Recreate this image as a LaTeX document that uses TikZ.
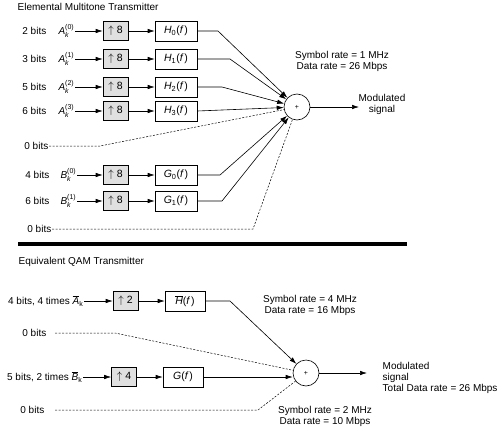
\documentclass[tikz,border=0pt]{standalone}
\usepackage{fontspec}
\setmainfont{Liberation Sans}
\usetikzlibrary{arrows.meta}
\newcommand\symAB[3]{$\mbox{\itshape #1}^{\mbox{\scriptsize #2}}_{\mbox{\scriptsize\itshape #3}}$}
\newcommand\barsym[2]{$\overline{\mbox{\itshape #1}}_{\mbox{\scriptsize #2}}$}
\newcommand\filt[2]{{\itshape #1}\textsubscript{#2}({\itshape f\,})}
\newcommand\upn[1]{$\uparrow$\ #1}
\begin{document}
\begin{tikzpicture}[x=1pt,y=-1pt,
  font=\fontsize{10}{11}\selectfont,
  sig/.style={line width=0.6pt,-{Latex[length=7pt,width=4.5pt]}},
  dsh/.style={line width=0.5pt,dash pattern=on 2pt off 1.5pt},
  upbox/.style={draw,line width=0.6pt,fill=black!12,minimum width=25pt,minimum height=19pt,inner sep=0pt,font=\fontsize{10.5}{12}\selectfont},
  fbox/.style={draw,line width=0.6pt,fill=white,minimum width=42pt,minimum height=20pt,inner sep=0pt,font=\fontsize{10.5}{12}\selectfont},
  sumnode/.style={draw,circle,line width=0.6pt,minimum size=26pt,inner sep=0pt},
  lbl/.style={inner sep=0.5pt}]
\useasboundingbox (0,0) rectangle (500,428);

% ---------- top section ----------
\node[anchor=west,lbl] (t1) at (17,7) {Elemental Multitone Transmitter};
\node[sumnode] (sum) at (297,107) {\scriptsize +};

\foreach \i/\y/\b in {0/31/2,1/59/3,2/87/5,3/111/6}{
  \node[anchor=east,lbl] (bA\i) at (47,\y) {\b\ bits};
  \node[anchor=east,lbl] (a\i) at (75,\y) {\symAB{A}{(\i)}{k}};
  \node[upbox] (u\i) at (115.5,\y) {\upn{8}};
  \node[fbox] (h\i) at (176,\y) {\filt{H}{\i}};
  \draw[sig] (a\i.east) -- (u\i.west);
  \draw[sig] (u\i.east) -- (h\i.west);
}
\coordinate (k0) at (218,31);
\coordinate (k1) at (230,59);
\coordinate (k2) at (222,87);
\draw[sig] (h0.east) -- (k0) -- (sum);
\draw[sig] (h1.east) -- (k1) -- (sum);
\draw[sig] (h2.east) -- (k2) -- (sum);
\draw[sig] (h3.east) -- (sum);

\node[anchor=east,lbl] (z1) at (49,146) {0 bits};
\coordinate (kz1) at (100,146);
\draw[dsh] (z1.east) -- (kz1) -- (sum);

\foreach \i/\y/\b in {0/175/4,1/201/6}{
  \node[anchor=east,lbl] (bB\i) at (50,\y) {\b\ bits};
  \node[anchor=east,lbl] (b\i) at (77,\y) {\symAB{B}{(\i)}{k}};
  \node[upbox] (v\i) at (115.5,\y) {\upn{8}};
  \node[fbox] (g\i) at (176,\y) {\filt{G}{\i}};
  \draw[sig] (b\i.east) -- (v\i.west);
  \draw[sig] (v\i.east) -- (g\i.west);
}
\coordinate (kg0) at (220,175);
\coordinate (kg1) at (222,201);
\draw[sig] (g0.east) -- (kg0) -- (sum);
\draw[sig] (g1.east) -- (kg1) -- (sum);

\node[anchor=east,lbl] (z2) at (52,229) {0 bits};
\coordinate (kz2) at (253,230);
\draw[dsh] (z2.east) -- (z2.east -| kz2) -- (sum);

\node[align=center,lbl] (r1) at (342,61.5) {Symbol rate = 1 MHz\\Data rate = 26 Mbps};
\coordinate (o1) at (359,107);
\draw[sig] (sum) -- (o1);
\node[align=center,lbl] (m1) at (382,104.5) {Modulated\\signal};

% ---------- separator ----------
\coordinate (bl) at (18,244);
\coordinate (br) at (407,244);
\draw[line width=4pt] (bl) -- (br);

% ---------- bottom section ----------
\node[anchor=west,lbl] (t2) at (18,262) {Equivalent QAM Transmitter};
\node[sumnode] (sum2) at (306,373) {\scriptsize +};

\node[anchor=east,lbl] (la) at (84,301) {4 bits, 4 times \barsym{A}{k}};
\node[upbox] (ua) at (125.5,301) {\upn{2}};
\node[fbox,minimum width=40pt] (ha) at (185,301) {$\overline{\mbox{\itshape H}}$({\itshape f\,})};
\draw[sig] (la.east) -- (ua.west);
\draw[sig] (ua.east) -- (ha.west);
\coordinate (ka) at (230,301);
\draw[sig] (ha.east) -- (ka) -- (sum2);

\node[anchor=east,lbl] (z3) at (47,333) {0 bits};
\coordinate (kz3s) at (55,333);
\coordinate (kz3) at (115,333);
\draw[dsh] (kz3s) -- (kz3) -- (sum2);

\node[anchor=east,lbl] (lb) at (83,377) {5 bits, 2 times \barsym{B}{k}};
\node[upbox] (ub) at (124,377) {\upn{4}};
\node[fbox,minimum width=40pt] (gb) at (183,377) {{\itshape G}({\itshape f\,})};
\draw[sig] (lb.east) -- (ub.west);
\draw[sig] (ub.east) -- (gb.west);
\draw[sig] (gb.east) -- (gb.east -| sum2.west);

\node[anchor=east,lbl] (z4) at (45,410) {0 bits};
\coordinate (kz4s) at (55,410);
\coordinate (kz4) at (258,410);
\draw[dsh] (kz4s) -- (kz4) -- (sum2);

\coordinate (o2) at (367,373);
\draw[sig] (sum2) -- (o2);
\node[align=left,anchor=north west,lbl] (m2) at (382,362) {Modulated\\signal\\Total Data rate = 26 Mbps};
\node[align=center,lbl] (r2) at (310,305.5) {Symbol rate = 4 MHz\\Data rate = 16 Mbps};
\node[align=center,lbl] (r3) at (325,416) {Symbol rate = 2 MHz\\Data rate = 10 Mbps};
\end{tikzpicture}
\end{document}
